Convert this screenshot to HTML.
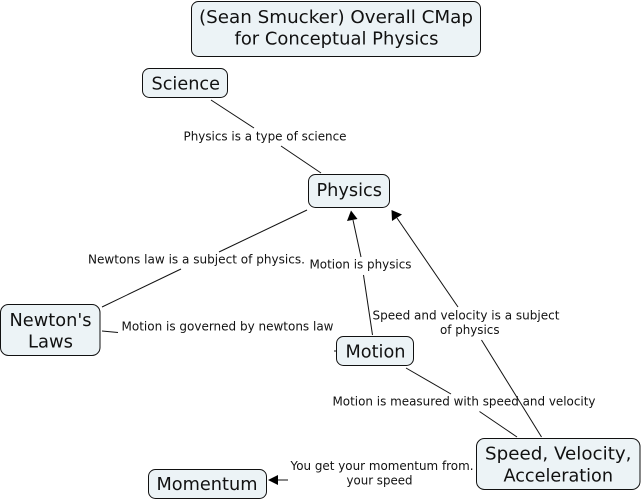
<!DOCTYPE html>
<html>
<head>
<meta charset="utf-8">
<style>
html,body{margin:0;padding:0;background:#fff;width:642px;height:500px;overflow:hidden}
svg{display:block}
text{font-family:"DejaVu Sans","Liberation Sans",sans-serif;fill:#111}
.n{font-size:18px;text-anchor:start}
.l{font-size:12px;text-anchor:start}
rect{fill:#ecf3f6;stroke:#111;stroke-width:1}
line{stroke:#111;stroke-width:1}
polygon{fill:#000}
</style>
</head>
<body>
<svg width="642" height="500" viewBox="0 0 642 500" xmlns="http://www.w3.org/2000/svg">
<rect x="191.5" y="1.5" width="289" height="55" rx="7"/>
<rect x="142.5" y="68.5" width="85" height="29" rx="7"/>
<rect x="308.5" y="174.5" width="81" height="33" rx="7"/>
<rect x="0.5" y="304.5" width="99.5" height="51" rx="8"/>
<rect x="336.5" y="336.5" width="77" height="29" rx="7"/>
<rect x="476.5" y="438.5" width="163.5" height="51" rx="8"/>
<rect x="148.5" y="469.5" width="118" height="29" rx="7"/>

<line x1="211" y1="100" x2="254" y2="128"/>
<line x1="281" y1="146" x2="321" y2="173"/>
<line x1="307" y1="210" x2="219" y2="252"/>
<line x1="181" y1="269" x2="102" y2="307"/>
<line x1="102" y1="331" x2="118" y2="332.5"/>
<line x1="334" y1="351" x2="336" y2="351"/>
<line x1="372.5" y1="335" x2="363.5" y2="275"/>
<line x1="361" y1="257" x2="353" y2="220"/>
<line x1="458" y1="307" x2="397" y2="218"/>
<line x1="481.5" y1="340" x2="541.5" y2="437"/>
<line x1="406" y1="368" x2="451" y2="394"/>
<line x1="479.5" y1="411.5" x2="517" y2="437"/>
<line x1="288" y1="480" x2="276" y2="480"/>

<polygon points="351,210.5 347,221 357.5,219"/>
<polygon points="391.5,210 392,221 402,214.500"/>
<polygon points="268,480 278,475 278,485"/>

<text class="n" x="199" y="23" textLength="274" lengthAdjust="spacingAndGlyphs">(Sean Smucker) Overall CMap</text>
<text class="n" x="234.500" y="44.500" textLength="204" lengthAdjust="spacingAndGlyphs">for Conceptual Physics</text>
<text class="n" x="151.500" y="89.300" textLength="68.500" lengthAdjust="spacingAndGlyphs">Science</text>
<text class="n" x="316.500" y="196" textLength="65.500" lengthAdjust="spacingAndGlyphs">Physics</text>
<text class="n" x="9.500" y="326" textLength="82" lengthAdjust="spacingAndGlyphs">Newton's</text>
<text class="n" x="28" y="347.500" textLength="45" lengthAdjust="spacingAndGlyphs">Laws</text>
<text class="n" x="345.500" y="357.300" textLength="60" lengthAdjust="spacingAndGlyphs">Motion</text>
<text class="n" x="485" y="459.500" textLength="146.500" lengthAdjust="spacingAndGlyphs">Speed, Velocity,</text>
<text class="n" x="503.500" y="481.500" textLength="109.500" lengthAdjust="spacingAndGlyphs">Acceleration</text>
<text class="n" x="156.500" y="490" textLength="101" lengthAdjust="spacingAndGlyphs">Momentum</text>

<text class="l" x="183.500" y="140.500" textLength="163" lengthAdjust="spacingAndGlyphs">Physics is a type of science</text>
<text class="l" x="88" y="263.300" textLength="217" lengthAdjust="spacingAndGlyphs">Newtons law is a subject of physics.</text>
<text class="l" x="309.500" y="268.300" textLength="102" lengthAdjust="spacingAndGlyphs">Motion is physics</text>
<text class="l" x="121.500" y="330.300" textLength="212" lengthAdjust="spacingAndGlyphs">Motion is governed by newtons law</text>
<text class="l" x="372.500" y="319.300" textLength="187" lengthAdjust="spacingAndGlyphs">Speed and velocity is a subject</text>
<text class="l" x="440" y="334" textLength="59.500" lengthAdjust="spacingAndGlyphs">of physics</text>
<text class="l" x="332.500" y="405.300" textLength="263" lengthAdjust="spacingAndGlyphs">Motion is measured with speed and velocity</text>
<text class="l" x="290.500" y="470" textLength="183" lengthAdjust="spacingAndGlyphs">You get your momentum from.</text>
<text class="l" x="346.500" y="484.500" textLength="66" lengthAdjust="spacingAndGlyphs">your speed</text>
</svg>
</body>
</html>
